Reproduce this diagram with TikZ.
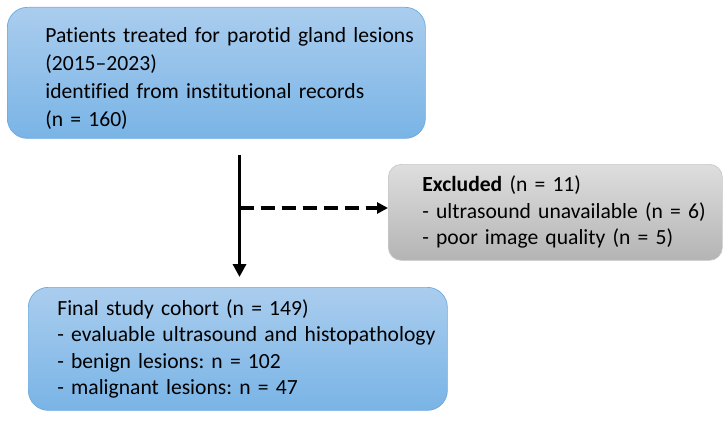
\documentclass[tikz,border=0pt]{standalone}
\usepackage{fontspec}
\setmainfont{Carlito}[Ligatures={NoCommon,NoContextual,NoRare},Contextuals=NoAlternate]
\usetikzlibrary{arrows.meta,positioning}
\frenchspacing
\definecolor{bluetop}{RGB}{170,205,238}
\definecolor{bluebot}{RGB}{121,180,230}
\definecolor{blueline}{RGB}{108,170,224}
\definecolor{greytop}{RGB}{222,222,222}
\definecolor{greybot}{RGB}{180,180,180}
\definecolor{greyline}{RGB}{200,200,200}
\newcommand{\firststrut}{\rule{0pt}{27pt}}
\tikzset{
    % boxes of the flow chart
    flowbox/.style={
        anchor=north west,
        align=left,
        inner xsep=0pt,
        inner ysep=0pt,
        line width=0.7pt,
        font=\fontsize{21.6}{26.4}\selectfont
    },
    bluebox/.style={
        flowbox,
        draw=blueline,
        top color=bluetop,
        bottom color=bluebot,
        rounded corners=20pt
    },
    greybox/.style={
        flowbox,
        draw=greyline,
        top color=greytop,
        bottom color=greybot,
        rounded corners=13pt
    },
    textindent/.style={execute at begin node={\leftskip=#1}},
    % arrows
    mainarrow/.style={
        line width=3.5pt,
        black,
        -{Triangle[length=13pt, width=13pt]}
    },
    exclarrow/.style={
        line width=3.5pt,
        black,
        dash pattern=on 14pt off 7pt,
        -{Triangle[length=11pt, width=11pt]}
    }
}
\begin{document}
\begin{tikzpicture}[x=1pt,y=-1pt]
    \useasboundingbox (0,0) rectangle (727,420);

    % boxes
    \node[bluebox, font=\fontsize{21.6}{28}\selectfont, textindent=38pt, text width=418pt, minimum height=131pt] (start) at (7,7)
        {\firststrut Patients treated for parotid gland lesions\\(2015--2023)\\identified from institutional records\\(n = 160)};
    \node[greybox, textindent=34pt, text width=334pt, minimum height=96pt] (excl) at (388,164)
        {\textbf{Excluded} (n = 11)\\- ultrasound unavailable (n = 6)\\- poor image quality (n = 5)};
    \node[bluebox, textindent=29pt, text width=419pt, minimum height=123pt] (cohort) at (28,287)
        {Final study cohort (n = 149)\\- evaluable ultrasound and histopathology\\- benign lesions: n = 102\\- malignant lesions: n = 47};

    % arrows
    \coordinate (split) at (239.5,208);
    \draw[mainarrow, shorten <=16pt, shorten >=10pt] (split |- start.south) -- (split |- cohort.north);
    \draw[exclarrow] (split) -- (split -| excl.west);
\end{tikzpicture}
\end{document}
